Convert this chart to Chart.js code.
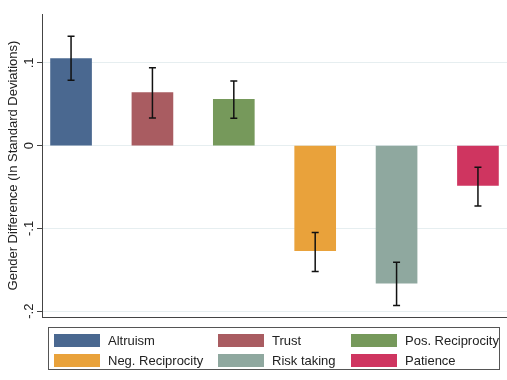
<!DOCTYPE html>
<html>
<head>
<meta charset="utf-8">
<script src="https://cdn.jsdelivr.net/npm/chart.js@4"></script>
<style>
  body { margin: 0; background: #fff; font-family: "Liberation Sans", Arial, sans-serif; }
  .wrap { position: relative; width: 507px; height: 380px; }
  .legend {
    position: absolute; left: 48px; top: 327px; width: 452px; height: 43px;
    border: 1px solid #555; box-sizing: border-box;
    display: grid; grid-template-columns: 164px 133px auto;
    padding: 5px 0 0 5px; row-gap: 5px;
  }
  .legend div { display: flex; align-items: center; height: 14px; font-size: 13px; color: #222; }
  .legend span { display: inline-block; width: 46px; height: 13px; margin-right: 8px; }
</style>
</head>
<body>
<div class="wrap">
  <canvas id="myChart" width="507" height="380"></canvas>
  <div class="legend" id="legend"></div>
</div>
<script>
  // data
  const categories = ['Altruism', 'Trust', 'Pos. Reciprocity', 'Neg. Reciprocity', 'Risk taking', 'Patience'];
  const diffs = [0.105, 0.064, 0.056, -0.127, -0.166, -0.048];
  const ciHigh = [0.132, 0.094, 0.078, -0.105, -0.141, -0.026];
  const ciLow = [0.079, 0.0335, 0.033, -0.152, -0.193, -0.073];
  const colors = ['#4a6890', '#a95c61', '#76995b', '#e9a23b', '#8fa89f', '#cf3560'];
  const yTicks = [-0.2, -0.1, 0, 0.1];
  const yTickLabels = ['-.2', '-.1', '0', '.1'];

  // legend in html (stata style box)
  const legendEl = document.getElementById('legend');
  categories.forEach((c, i) => {
    const d = document.createElement('div');
    d.innerHTML = '<span style="background:' + colors[i] + '"></span>' + c;
    legendEl.appendChild(d);
  });

  // error bars + rotated y tick labels
  const extras = {
    id: 'extras',
    afterDatasetsDraw(chart) {
      const ctx = chart.ctx, x = chart.scales.x, y = chart.scales.y;
      ctx.save();
      ctx.strokeStyle = '#111';
      ctx.lineWidth = 1.5;
      categories.forEach((c, i) => {
        const px = x.getPixelForValue(i + 1);
        const top = y.getPixelForValue(ciHigh[i]);
        const bot = y.getPixelForValue(ciLow[i]);
        ctx.beginPath();
        ctx.moveTo(px, top); ctx.lineTo(px, bot);
        ctx.moveTo(px - 3.5, top); ctx.lineTo(px + 3.5, top);
        ctx.moveTo(px - 3.5, bot); ctx.lineTo(px + 3.5, bot);
        ctx.stroke();
      });
      ctx.fillStyle = '#222';
      ctx.font = '13px "Liberation Sans", Arial, sans-serif';
      ctx.textAlign = 'center';
      ctx.textBaseline = 'middle';
      yTicks.forEach((v, i) => {
        ctx.save();
        ctx.translate(29, y.getPixelForValue(v));
        ctx.rotate(-Math.PI / 2);
        ctx.fillText(yTickLabels[i], 0, 0);
        ctx.restore();
      });
      ctx.restore();
    }
  };

  const ctx = document.getElementById('myChart').getContext('2d');
  const myChart = new Chart(ctx, {
    type: 'bar',
    data: {
      datasets: [{
        data: diffs.map((v, i) => ({ x: i + 1, y: v })),
        backgroundColor: colors,
        borderWidth: 0,
        barThickness: 41
      }]
    },
    options: {
      responsive: false,
      animation: false,
      layout: { padding: { top: 14, bottom: 63, left: 0, right: 0 } },
      plugins: { legend: { display: false }, tooltip: { enabled: false } },
      scales: {
        x: {
          type: 'linear',
          offset: false,
          min: 0.643,
          max: 6.357,
          ticks: { display: false },
          grid: { display: false, offset: false },
          border: { display: true, color: '#444', width: 1 },
          afterFit: s => { s.height = 0; }
        },
        y: {
          min: -0.207,
          max: 0.159,
          afterBuildTicks: s => { s.ticks = yTicks.map(v => ({ value: v })); },
          ticks: { display: false },
          grid: { color: '#e6eef0', lineWidth: 1, tickLength: 5, tickColor: '#444' },
          border: { display: true, color: '#444', width: 1 },
          title: {
            display: true,
            text: 'Gender Difference (In Standard Deviations)',
            color: '#222',
            font: { family: '"Liberation Sans", Arial, sans-serif', size: 13 },
            padding: { top: 6, bottom: 0 }
          },
          afterFit: s => { s.width = 42; }
        }
      }
    },
    plugins: [extras]
  });
</script>
</body>
</html>
